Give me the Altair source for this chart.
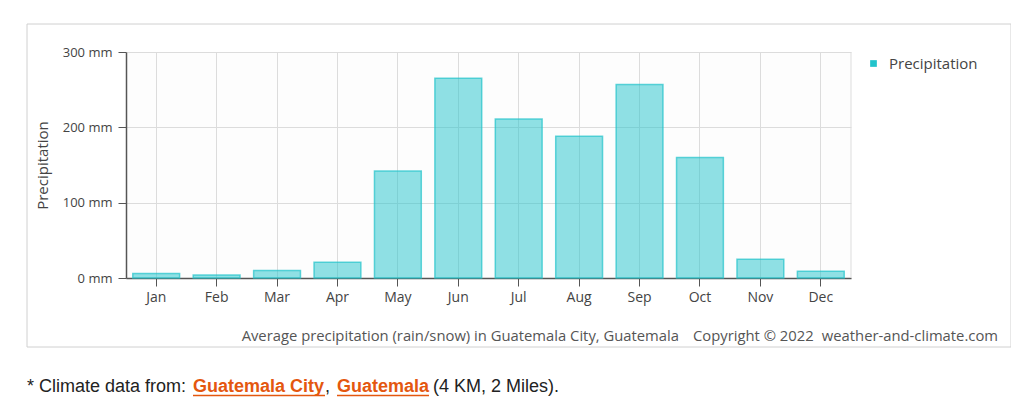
import altair as alt
import pandas as pd

months = ["Jan", "Feb", "Mar", "Apr", "May", "Jun", "Jul", "Aug", "Sep", "Oct", "Nov", "Dec"]
precip = [6, 4, 10, 21, 142, 265, 211, 188, 257, 160, 25, 9]
y_ticks = [0, 100, 200, 300]
series_name = "Precipitation"
caption_main = "Average precipitation (rain/snow) in Guatemala City, Guatemala"
caption_copy = "Copyright © 2022"
caption_site = "weather-and-climate.com"

df = pd.DataFrame({"month": months, "value": precip, "series": [series_name] * len(months)})
one = pd.DataFrame({"a": [0]})

W, H = 725, 226
FONT = "Open Sans"
CYAN = "#22c3cb"
GREY_TXT = "#444444"

# frame around the chart
frame = alt.Chart(one).mark_rect(fill=None, stroke="#d0d0d0", strokeWidth=1).encode(
    x=alt.value(-99), x2=alt.value(885), y=alt.value(-28), y2=alt.value(295)
)

# right border of plot area
right_edge = alt.Chart(one).mark_rule(color="#dddddd").encode(
    x=alt.value(W), y=alt.value(0), y2=alt.value(H)
)

bars = alt.Chart(df).mark_bar(
    fill=CYAN, fillOpacity=0.5, stroke=CYAN, strokeOpacity=0.7, strokeWidth=1.5
).encode(
    x=alt.X("month:N", sort=months,
            scale=alt.Scale(paddingInner=0.225, paddingOuter=0.1125),
            axis=alt.Axis(title=None, bandPosition=0.5, labelAngle=0, tickSize=8,
                          labelPadding=4, labelFontSize=14, grid=True)),
    y=alt.Y("value:Q", scale=alt.Scale(domain=[0, 300], nice=False),
            axis=alt.Axis(values=y_ticks, title="Precipitation", labelExpr="datum.value + ' mm'",
                          tickSize=8, labelPadding=6, labelFontSize=13, titlePadding=12,
                          grid=True)),
    color=alt.Color("series:N", scale=alt.Scale(range=[CYAN]),
                    legend=alt.Legend(title=None, orient="none", legendX=740, legendY=4,
                                      symbolType="square", symbolSize=45, symbolOpacity=1,
                                      symbolStrokeWidth=0, labelOffset=8,
                                      labelFontSize=15, labelFont=FONT, labelColor=GREY_TXT)),
)

CAP_Y = 289
cap_style = dict(baseline="alphabetic", font=FONT, fontSize=14.8, color="#555555")
cap1 = alt.Chart(one).mark_text(text=caption_main, align="right", **cap_style).encode(
    x=alt.value(553), y=alt.value(CAP_Y))
cap2 = alt.Chart(one).mark_text(text=caption_copy, align="left", **cap_style).encode(
    x=alt.value(567), y=alt.value(CAP_Y))
cap3 = alt.Chart(one).mark_text(text=caption_site, align="right", **cap_style).encode(
    x=alt.value(872), y=alt.value(CAP_Y))

# footer line
FOOT_Y = 340
FS = 18
black = "#222222"
orange = "#e4570f"
pieces = [
    ("* Climate data from: ", -99, black, "normal"),
    ("Guatemala City", 67, orange, "bold"),
    (",", 199, black, "normal"),
    ("Guatemala", 211, orange, "bold"),
    ("(4 KM, 2 Miles).", 307, black, "normal"),
]
foot_layers = []
for txt, px, col, fw in pieces:
    foot_layers.append(
        alt.Chart(one).mark_text(text=txt, align="left", baseline="alphabetic",
                                 font="Liberation Sans", fontSize=FS, color=col, fontWeight=fw)
        .encode(x=alt.value(px), y=alt.value(FOOT_Y))
    )
underlines = [(67, 199), (211, 303)]
for a, b in underlines:
    foot_layers.append(
        alt.Chart(one).mark_rule(color=orange, strokeWidth=1.5)
        .encode(x=alt.value(a), x2=alt.value(b), y=alt.value(FOOT_Y + 3.5))
    )

chart = alt.layer(frame, right_edge, bars, cap1, cap2, cap3, *foot_layers).properties(
    width=W, height=H,
    autosize=alt.AutoSizeParams(type="none"),
    padding={"left": 118, "top": 44, "right": 160, "bottom": 119},
    background="white",
).configure_view(stroke=None, fill="#fdfdfd").configure_axis(
    labelFont=FONT, titleFont=FONT, titleFontSize=15,
    labelColor=GREY_TXT, titleColor=GREY_TXT, titleFontWeight="normal",
    domainColor="#555555", tickColor="#555555", gridColor="#dcdcdc", domainWidth=1.5,
)

chart.save("out.html", embed_options={"renderer": "svg", "actions": False})
